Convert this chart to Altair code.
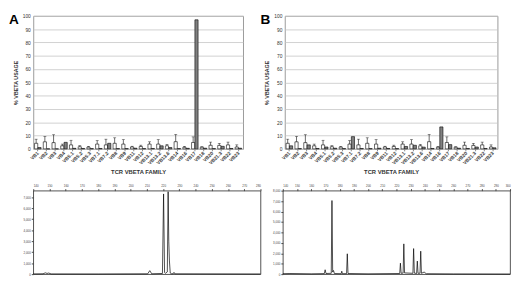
import altair as alt
import pandas as pd

families = ["VB1", "VB2", "VB3", "VB4", "VB5.1", "VB5.2", "VB5.3", "VB7.1", "VB7.2",
            "VB8", "VB9", "VB11", "VB12", "VB13.1", "VB13.2", "VB13.6", "VB14",
            "VB16", "VB17", "VB18", "VB20", "VB21.3", "VB22", "VB23"]
normal_mean = [4.2, 5.3, 4.7, 2.3, 3.0, 1.6, 1.3, 3.6, 3.0, 4.2, 3.6, 1.4, 1.8,
               3.6, 3.6, 2.3, 5.4, 1.2, 4.8, 1.2, 2.7, 2.6, 3.0, 1.4]
normal_upper = [7.3, 9.3, 10.6, 3.6, 6.5, 2.4, 1.9, 6.2, 7.3, 8.3, 6.9, 2.0, 2.8,
                5.3, 6.9, 3.4, 10.8, 1.9, 9.0, 1.6, 5.1, 4.2, 5.1, 3.0]
patient_a = [1.0, 0.0, 0.0, 4.9, 0.4, 0.3, 0.2, 0.3, 4.2, 0.2, 0.2, 0.5, 0.2,
             0.3, 2.3, 1.0, 0.2, 0.4, 97.0, 0.5, 0.2, 1.9, 0.3, 0.5]
patient_b = [2.3, 0.2, 3.0, 0.3, 1.4, 0.5, 0.2, 9.2, 0.3, 0.2, 0.5, 0.3, 0.2,
             1.8, 2.7, 1.3, 0.3, 16.5, 3.2, 0.5, 0.3, 1.4, 0.3, 0.8]

size_a = [140, 146, 147.5, 148.5, 149.5, 151, 180, 210.5, 211.8, 213, 219.6, 220.3,
          220.9, 221.5, 222.6, 223.1, 223.5, 223.9, 224.4, 225, 226.2, 226.7, 227.2, 280]
height_a = [20, 30, 120, 60, 100, 20, 15, 30, 320, 30, 60, 7300,
            150, 80, 200, 7500, 3000, 1200, 100, 40, 30, 160, 30, 15]
size_b = [140, 145, 160, 169.2, 169.8, 170.4, 174.1, 174.6, 175.1, 175.7, 176.3,
          181.1, 181.5, 182, 184.9, 185.4, 185.9, 200, 222.3, 222.8, 223.3, 224.7,
          225.2, 225.7, 231.6, 232.1, 232.6, 234.2, 234.7, 235.2, 236.6, 237.1,
          237.6, 239.5, 241, 260, 300]
height_b = [40, 60, 30, 50, 420, 60, 80, 7050, 200, 350, 60,
            40, 280, 40, 50, 1950, 60, 30, 60, 1050, 80, 100,
            2900, 120, 80, 2450, 100, 60, 1250, 80, 90, 2200,
            80, 200, 40, 20, 10]
ticks_a = list(range(140, 290, 10))
ticks_b = list(range(140, 310, 10))
yticks_a = list(range(0, 8000, 1000))
yticks_b = list(range(0, 9000, 1000))
pct_ticks = list(range(0, 110, 10))

FONT = "Liberation Sans"

X_AXIS = alt.Axis(title="TCR VBETA FAMILY", labelAngle=-45, labelAlign="right",
                  labelBaseline="middle", labelFontSize=5, labelFont=FONT,
                  labelFontWeight="bold", labelColor="#333", tickSize=2,
                  tickColor="#888", domain=False, titleFontSize=6,
                  titleFont=FONT, titleFontWeight="bold", titlePadding=3,
                  titleColor="#333", labelPadding=1, labelOverlap=False)
Y_AXIS = alt.Axis(values=pct_ticks, title="% VBETA USAGE", labelFontSize=5,
                  labelFont=FONT, labelColor="#333", tickSize=0,
                  labelPadding=3, domain=False, grid=True,
                  gridColor="#c4c4c4", gridWidth=0.8, titleFontSize=5.5,
                  titleFont=FONT, titleFontWeight="bold", titlePadding=4,
                  titleColor="#333", labelOverlap=False)


def bar_panel(patient, letter, w, h):
    n = len(families)
    df = pd.DataFrame({"fam": families * 2,
                       "grp": ["a_normal"] * n + ["b_patient"] * n,
                       "val": normal_mean + patient})
    err = pd.DataFrame({"fam": families, "grp": ["a_normal"] * n,
                        "lo": normal_mean, "hi": normal_upper})
    x = alt.X("fam:N", sort=families,
              scale=alt.Scale(paddingInner=0.25, paddingOuter=0.15), axis=X_AXIS)
    xo = alt.XOffset("grp:N", scale=alt.Scale(domain=["a_normal", "b_patient"],
                                              paddingInner=0.05))
    ysc = alt.Scale(domain=[0, 100], nice=False)
    bars = alt.Chart(df).mark_bar(stroke="black", strokeWidth=0.6).encode(
        x=x, xOffset=xo,
        y=alt.Y("val:Q", scale=ysc, axis=Y_AXIS),
        fill=alt.Fill("grp:N", scale=alt.Scale(domain=["a_normal", "b_patient"],
                                               range=["white", "#808080"]), legend=None))
    rules = alt.Chart(err).mark_rule(color="black", strokeWidth=0.6).encode(
        x=x, xOffset=xo, y=alt.Y("lo:Q", scale=ysc, axis=Y_AXIS), y2="hi:Q")
    caps = alt.Chart(err).mark_tick(color="black", thickness=0.6, size=3).encode(
        x=x, xOffset=xo, y=alt.Y("hi:Q", scale=ysc, axis=Y_AXIS))
    lab = alt.Chart(pd.DataFrame({"t": [letter]})).mark_text(
        fontSize=14, fontWeight="bold", font=FONT, align="left", baseline="top",
        color="black").encode(text="t:N", x=alt.value(-25), y=alt.value(-3))
    return alt.layer(bars, rules, caps, lab).properties(
        width=w, height=h, view=alt.ViewBackground(stroke="#999", strokeWidth=1))


def epg_panel(size, height, ticks, yticks, ymax, w, h):
    df = pd.DataFrame({"s": size, "h": height})
    return alt.Chart(df).mark_line(color="black", strokeWidth=0.7).encode(
        x=alt.X("s:Q", scale=alt.Scale(domain=[ticks[0], ticks[-1]], nice=False, zero=False),
                axis=alt.Axis(orient="top", values=ticks, title=None, labelFontSize=3,
                              labelFont=FONT, labelColor="#444", tickSize=2, grid=False,
                              domain=False, labelPadding=1, tickColor="#444",
                              labelOverlap=False)),
        y=alt.Y("h:Q", scale=alt.Scale(domain=[0, ymax], nice=False),
                axis=alt.Axis(values=yticks, title=None, labelFontSize=3, labelFont=FONT,
                              labelColor="#444", tickSize=2, grid=False, domain=False,
                              labelPadding=1, tickColor="#444", labelOverlap=False))
    ).properties(width=w, height=h,
                 view=alt.ViewBackground(stroke="#222", strokeWidth=0.8))


barA = bar_panel(patient_a, "A", 216, 137)
barB = bar_panel(patient_b, "B", 219, 137)
epgA = epg_panel(size_a, height_a, ticks_a, yticks_a, 7600, 234, 86)
epgB = epg_panel(size_b, height_b, ticks_b, yticks_b, 8000, 234, 86)

top = alt.hconcat(barA, barB, spacing=16)
bottom = alt.hconcat(epgA, epgB, spacing=10)
chart = alt.vconcat(top, bottom, spacing=9).properties(padding=0).configure(
    background="white")

chart.save("out.html", embed_options={"renderer": "svg", "actions": False})
